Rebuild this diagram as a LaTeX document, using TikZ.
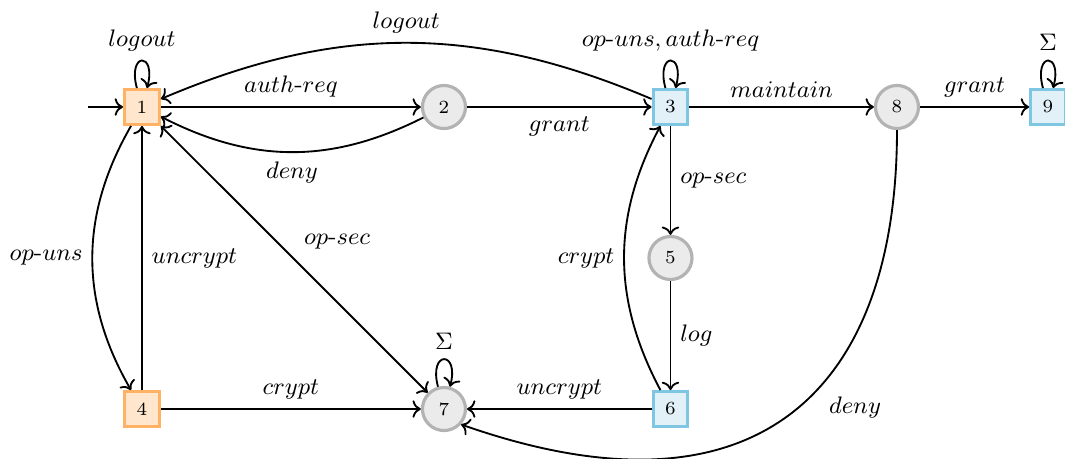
\documentclass[tikz,border=0pt]{standalone}
\usepackage{xcolor}
\usepackage{tikz}
\usetikzlibrary{arrows.meta, positioning, calc}

\definecolor{orangeline}{RGB}{255,178,102}
\definecolor{orangefill}{RGB}{255,230,204}
\definecolor{blueline}{RGB}{126,198,226}
\definecolor{bluefill}{RGB}{226,240,248}
\definecolor{grayline}{RGB}{179,179,179}
\definecolor{grayfill}{RGB}{235,235,235}

\newcommand{\hy}{\mbox{-}}

\begin{document}
\begin{tikzpicture}[line width=0.7pt, font=\fontsize{9.5}{11}\selectfont,
    state/.style={inner sep=0pt, line width=1.2pt, font=\scriptsize},
    orangebox/.style={state, draw=orangeline, fill=orangefill, minimum size=0.46cm},
    bluebox/.style={state, draw=blueline, fill=bluefill, minimum size=0.46cm},
    graycirc/.style={state, circle, draw=grayline, fill=grayfill, minimum size=0.57cm}]
			\useasboundingbox (-1.88,-0.662) rectangle (12.225,5.417);
			
			% states
			\node[orangebox] (q1) at (0,4) {1};
			\node[graycirc] (q2) at (4,4) {2};
			\node[bluebox] (q3) at (7,4) {3};
			\node[orangebox] (q4) at (0,0) {4};
			\node[graycirc] (q5) at (7,2) {5};
			\node[bluebox] (q6) at (7,0) {6};
			\node[graycirc] (q7) at (4,0) {7};
			\node[graycirc] (q8) at (10,4) {8};
			\node[bluebox] (q9) at (12,4) {9};
			\coordinate (start) at (-0.72,4);
			
			% initial arrow
			\draw[->] (start) -- (q1);
			
			% top row
			\draw[->] (q1) -- node[above] {$auth\hy req$} (q2);
			\draw[->] (q2) to[bend left=27] node[below] {$deny$} (q1);
			\draw[->] (q2) -- node[below] {$grant$} (q3);
			\draw[->] (q3) to[bend right=23] node[above] {$logout$} (q1);
			\draw[->] (q3) -- node[above] {$maintain$} (q8);
			\draw[->] (q8) -- node[above] {$grant$} (q9);
			
			% self loops
			\draw[->] (q1) to[loop above] node[above] {$logout$} (q1);
			\draw[->] (q3) to[loop above] node[above] {$op\hy uns, auth\hy req$} (q3);
			\draw[->] (q9) to[loop above] node[above] {$\Sigma$} (q9);
			\draw[->] (q7) to[loop above] node[above] {$\Sigma$} (q7);
			
			% left column
			\draw[->] (q1) to[bend right=30] node[left] {$op\hy uns$} (q4);
			\draw[->] (q4) -- node[right] {$uncrypt$} (q1);
			\draw[<->] (q1) -- node[above right] {$op\hy sec$} (q7);
			\draw[->] (q4) -- node[above] {$crypt$} (q7);
			
			% right column
			\draw[->] (q3) -- node[right] {$op\hy sec$} (q5);
			\draw[->] (q5) -- node[right] {$log$} (q6);
			\draw[->] (q6) to[bend left=28] node[left] {$crypt$} (q3);
			\draw[->] (q6) -- node[above] {$uncrypt$} (q7);
			
			% long way back
			\draw[->] (q8) .. controls (10,0.3) and (8.2,-1.6) .. node[pos=0.43, below right] {$deny$} (q7.-42);
		\end{tikzpicture}
\end{document}
